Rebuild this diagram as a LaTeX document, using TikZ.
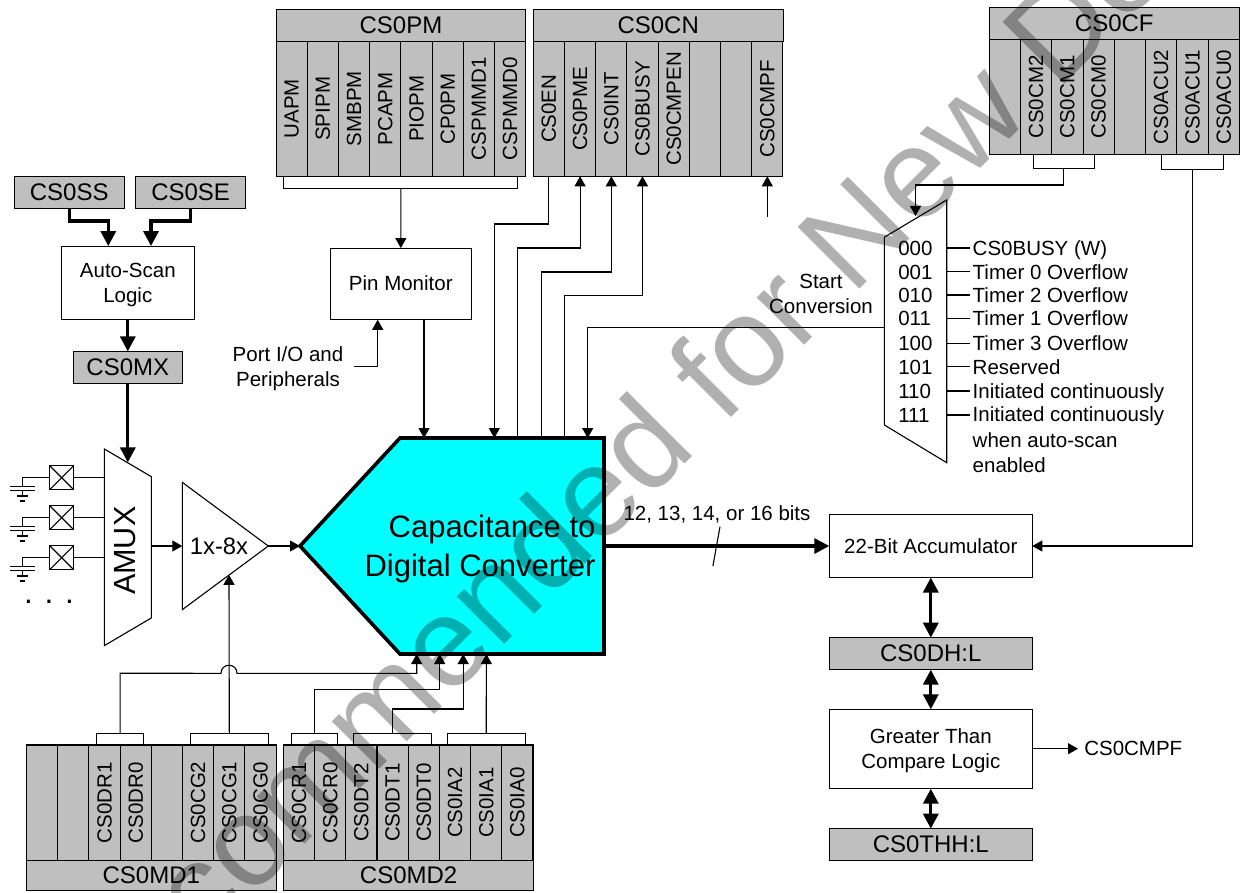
\documentclass[tikz,border=0pt]{standalone}
\usepackage{fontspec}
\setmainfont{Liberation Sans}
\usepackage{tikz}
\usetikzlibrary{arrows.meta, positioning, calc}
\definecolor{regfill}{RGB}{191,191,191}
\definecolor{markgray}{RGB}{176,176,176}
\definecolor{cdcfill}{RGB}{0,255,255}

\begin{document}
\begin{tikzpicture}[x=1pt, y=-1pt, line width=1.1pt, >={Triangle[length=10pt,width=11pt]}]
    \tikzset{labeltext/.style={inner sep=0, outer sep=0, font=\fontsize{20.5}{25}\selectfont},
        box/.style={labeltext, draw, fill=white, align=center, text depth=0pt},
        regcell/.style={labeltext, draw, fill=regfill, rotate=90},
        regtitle/.style={inner sep=0, outer sep=0, draw, fill=regfill, font=\fontsize{24}{28}\selectfont},
        framebox/.style={inner sep=0, outer sep=0},
        muxtext/.style={labeltext, text height=14.7pt, text depth=0pt, anchor=west},
        bus/.style={line width=3.2pt, >={Triangle[length=15pt,width=15pt]}}
    }
    \useasboundingbox (0,0) rectangle (1241,892);

    \node (CS0SS) [regtitle, minimum width=109.7pt, minimum height=31.6pt] at (69.2,192.5) {CS0SS};
    \node (CS0SE) [regtitle, minimum width=109.7pt, minimum height=31.6pt] [right=11.7pt of CS0SS] {CS0SE};
    \node (Auto) [box, minimum width=133pt, minimum height=73.7pt] at (127.8,282.9) {Auto-Scan\\Logic};
    \node (CS0MX) [regtitle, minimum width=109.4pt, minimum height=31.7pt] at (127.8,367.2) {CS0MX};
    \draw [bus, ->] (CS0SS.south) -- ++(0,12.7) -| ([xshift=-19.5pt]Auto.north);
    \draw [bus, ->] (CS0SE.south) -- ++(0,12.7) -| ([xshift=23.2pt]Auto.north);
    \draw [bus, ->] (Auto.south) -- (CS0MX.north);

    \node (Amux) [framebox, minimum width=47pt, minimum height=196.7pt] at (127.8,547.3) {};
    \draw (Amux.north west) -- ++(47,27.7) -- ++(0,141.3) -- (Amux.south west) -- cycle;
    \node (AmuxText) [inner sep=0, rotate=90, font=\fontsize{30.6}{36}\selectfont] at (124.7,550.7) {AMUX};
    \draw [bus, ->] (CS0MX.south) -- ([yshift=-13.5pt]Amux.north);

    \foreach \y in {0,40,80} {
        \node (Pad\y) [framebox, draw, minimum size=24pt] at (61.7,{477.7+\y}) {};
        \draw (Pad\y.north west) -- (Pad\y.south east);
        \draw (Pad\y.north east) -- (Pad\y.south west);
        \draw (Pad\y.east) -- (Pad\y.east -| Amux.west);
        \draw (Pad\y.west) -- ++(-27,0) -- ++(0,9);
        \draw (10.3,{486.3+\y}) -- (34.7,{486.3+\y});
        \draw (10.3,{490.3+\y}) -- (34.7,{490.3+\y});
        \draw (22.7,{490.3+\y}) -- (22.7,{496+\y});
        \draw (17.3,{496+\y}) -- (28,{496+\y});
        \draw (20,{501+\y}) -- (25.3,{501+\y});
    }
    \node (Dots) [inner sep=0, font=\fontsize{31.5}{36}\selectfont] at (49,602) {. . .};

    \node (Amp) [framebox, minimum width=86pt, minimum height=127.3pt] at (225.3,546) {};
    \draw (Amp.north west) -- (Amp.east) -- (Amp.south west) -- cycle;
    \node (AmpText) [inner sep=0, font=\fontsize{23.8}{28}\selectfont] at (219,546) {1x-8x};
    \draw [->] (Amux.east |- Amp.west) -- (Amp.west);

    \node (CDC) [framebox, minimum width=304pt, minimum height=216pt] at (452,546) {};
    \draw [line width=3.6pt, fill=cdcfill, line join=miter] (CDC.west) -- ++(100,-108) -- (CDC.north east) -- (CDC.south east) -- ++(-204,0) -- cycle;
    \node (CDCText) [inner sep=0, anchor=east, align=right, text depth=0pt, font=\fontsize{31}{38.5}\selectfont] at (596,546) {Capacitance to\\Digital Converter};
    \draw [->] (Amp.east) -- (CDC.west);

    \node (CS0PM) [regtitle, minimum width=249.8pt, minimum height=32pt] at (401,25.4) {CS0PM};
    \foreach \n [count=\i] in {UAPM,SPIPM,SMBPM,PCAPM,PIOPM,CP0PM,CSPMMD1,CSPMMD0} {
        \node (PM\i) [regcell, minimum width=135pt, minimum height=31.2pt] at ({276.1+31.2*(\i-.5)},108.8) {\n};
    }
    \node (CS0CN) [regtitle, minimum width=249.8pt, minimum height=32pt] at (658.2,25.4) {CS0CN};
    \foreach \n [count=\i] in {CS0EN,CS0PME,CS0INT,CS0BUSY,CS0CMPEN,{},{},CS0CMPF} {
        \node (CN\i) [regcell, minimum width=135pt, minimum height=31.2pt] at ({533.3+31.2*(\i-.5)},108.8) {\n};
    }
    \node (CS0CF) [regtitle, minimum width=250pt, minimum height=31.8pt] at (1114.3,23.4) {CS0CF};
    \foreach \n [count=\i] in {{},CS0CM2,CS0CM1,CS0CM0,{},CS0ACU2,CS0ACU1,CS0ACU0} {
        \node (CF\i) [regcell, minimum width=115.4pt, minimum height=31.25pt] at ({989.3+31.25*(\i-.5)},97) {\n};
    }
    \node (CS0MD1) [regtitle, minimum width=249.7pt, minimum height=30.4pt] at (151.3,875.5) {CS0MD1};
    \foreach \n [count=\i] in {{},{},CS0DR1,CS0DR0,{},CS0CG2,CS0CG1,CS0CG0} {
        \node (MD1\i) [regcell, minimum width=115.3pt, minimum height=31.2pt] at ({26.5+31.2*(\i-.5)},802.6) {\n};
    }
    \node (CS0MD2) [regtitle, minimum width=250.4pt, minimum height=30.4pt] at (408.6,875.5) {CS0MD2};
    \foreach \n [count=\i] in {CS0CR1,CS0CR0,CS0DT2,CS0DT1,CS0DT0,CS0IA2,CS0IA1,CS0IA0} {
        \node (MD2\i) [regcell, minimum width=115.3pt, minimum height=31.2pt] at ({283.4+31.2*(\i-.5)},802.6) {\n};
    }

    \foreach \reg/\a/\b in {MD1/3/4, MD1/6/8, MD2/1/2, MD2/3/5, MD2/6/8} {
        \draw ([xshift=-7.7pt]\reg\a.east) -- ++(0,-11.7) -| ([xshift=7.7pt]\reg\b.east);
        \coordinate (\reg Br\a) at ($(\reg\a.east)!.5!(\reg\b.east)+(0,-11.7)$);
    }
    \draw [->] (MD1Br3) -- ++(0,-60) -- (221,673.3) .. controls +(0,-10.7) and +(0,-10.7) .. +(16,0) -| ([xshift=-35.3pt]CDC.south);
    \draw [->] (MD1Br6) -- ([xshift=3.7pt,yshift=34.8pt]Amp.south);
    \draw [->] (MD2Br1) -- ++(0,-44) -| ([xshift=-12.3pt]CDC.south);
    \draw [->] (MD2Br3) -- ++(0,-24.3) -| ([xshift=11.2pt]CDC.south);
    \draw [->] (MD2Br6) -- ([xshift=34.4pt]CDC.south);

    \draw ([xshift=-8.2pt]PM1.west) -- ++(0,12) -| ([xshift=7.7pt]PM8.west);
    \coordinate (PMBr) at ($(PM1.west)!.5!(PM8.west)+(0,12)$);
    \node (PinMon) [box, text depth=2.5pt, minimum width=141pt, minimum height=71.7pt] at (400.8,283.9) {Pin Monitor};
    \draw [->] (PMBr) -- (PinMon.north);
    \node (PortIO) [labeltext, align=center, text depth=0pt] at (288,366.5) {Port I/O and\\Peripherals};
    \draw [->] ([xshift=10.5pt]PortIO.east) -| ([xshift=-23.1pt]PinMon.south);
    \draw [->] ([xshift=23.2pt]PinMon.south) -- ([xshift=-28pt]CDC.north);

    \draw [->] (CN1.west) -- ++(0,47.7) -| ([xshift=42.3pt]CDC.north);
    \foreach \c/\dy/\dx in {2/71.7/65.7, 3/95.7/89.3, 4/119.4/112.7} {
        \draw [<-] (CN\c.west) -- ++(0,\dy) -| ([xshift=\dx pt]CDC.north);
    }
    \draw [<-] (CN8.west) -- ++(0,40.4);

    \node (Mux) [framebox, minimum width=62.4pt, minimum height=262.7pt] at (915.5,331.3) {};
    \draw (Mux.north east) -- ++(-62.4,37.3) -- ++(0,187.7) -- (Mux.south east) -- cycle;
    \foreach \code/\lab/\y in {000/CS0BUSY (W)/248, 001/Timer 0 Overflow/271.7, 010/Timer 2 Overflow/295, 011/Timer 1 Overflow/318.3, 100/Timer 3 Overflow/343.3, 101/Reserved/366.7, 110/Initiated continuously/391} {
        \node (Sel\code) [muxtext] at (898.3,\y) {\code};
        \node (In\code) [muxtext, inner xsep=2.7pt] at (970,\y) {\lab};
        \draw (In\code.west) -- (In\code.west -| Mux.east);
    }
    \node (Sel111) [muxtext] at (898.3,415) {111};
    \node (In111) [labeltext, inner xsep=2.7pt, anchor=north west, align=left, font=\fontsize{20.5}{25.5}\selectfont] at (970,407) {Initiated continuously\\when auto-scan\\enabled};
    \draw ([yshift=-8pt]In111.north west) -- ++(-23.3,0);
    \node (Start) [labeltext, align=center] at (821,294) {Start\\Conversion};
    \draw [->] (Mux.west |- 0,327.7) -| ([xshift=135.7pt]CDC.north);

    \draw ([xshift=-3pt]CF2.west) -- ++(0,14) -| ([xshift=-4.6pt]CF4.west);
    \coordinate (CFBrM) at (1063.7,168.7);
    \draw [->] (CFBrM) -- ++(0,16.3) -| ([yshift=-16pt]Mux.north);
    \draw (CF6.west) -- ++(0,15) -| (CF8.west);
    \coordinate (CFBrA) at ($(CF6.west)!.5!(CF8.west)+(0,15)$);

    \node (Accum) [box, minimum width=203pt, minimum height=63pt] at (930.8,546) {22-Bit Accumulator};
    \draw [->] (CFBrA) |- (Accum.east);
    \node (CS0DHL) [regtitle, minimum width=203pt, minimum height=32pt] [below=60.2pt of Accum] {CS0DH:L};
    \node (Compare) [box, minimum width=203pt, minimum height=79.4pt] [below=39.6pt of CS0DHL] {Greater Than\\Compare Logic};
    \node (CS0THHL) [regtitle, minimum width=203pt, minimum height=31.6pt] [below=40pt of Compare] {CS0THH:L};
    \draw [bus, <->] (Accum) -- (CS0DHL);
    \draw [bus, <->] (CS0DHL) -- (Compare);
    \draw [bus, <->] (Compare) -- (CS0THHL);
    \node (CMPF) [labeltext, anchor=west] at (1084.3,748.7) {CS0CMPF};
    \draw [->] (Compare.east |- CMPF.west) -- ([xshift=-6.3pt]CMPF.west);

    \draw [bus, ->] (CDC.east) -- (Accum.west);
    \node (Bits) [labeltext] at (717,514) {12, 13, 14, or 16 bits};
    \coordinate (SlashTop) at (720,526.7);
    \coordinate (SlashEnd) at (712.9,566);
    \draw (SlashTop) -- (SlashEnd);

    \begin{scope}[blend mode=multiply]
        \node (Mark) [inner sep=0, rotate=45, anchor=base west, text=markgray, font=\fontsize{127}{127}\selectfont] at (89,1060) {Recommended for New De};
    \end{scope}
\end{tikzpicture}
\end{document}
